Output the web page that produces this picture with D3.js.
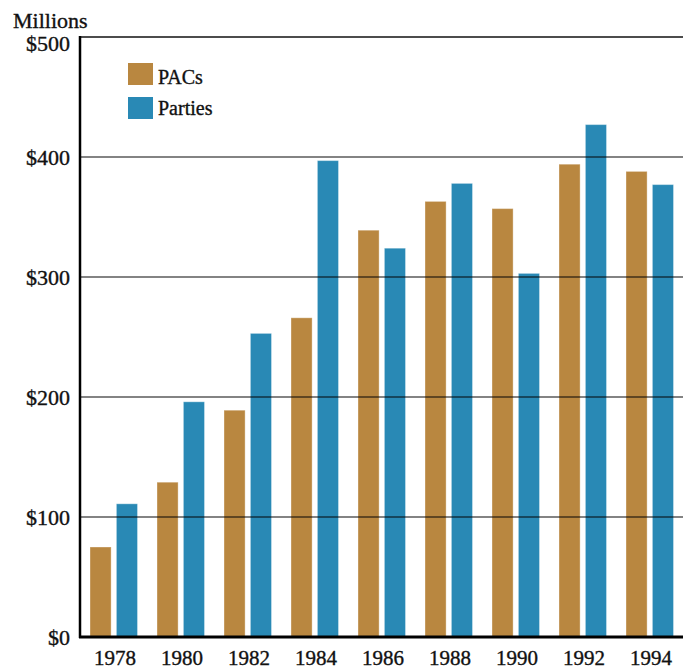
<!DOCTYPE html>
<html><head><meta charset="utf-8">
<script src="https://cdn.jsdelivr.net/npm/d3@7"></script>
<style>body{margin:0;background:#fff}svg{display:block}</style>
</head><body>
<svg id="c" width="685" height="670"></svg>
<script>
const years = ["1978","1980","1982","1984","1986","1988","1990","1992","1994"];
const pacs = [75, 129, 189, 266, 339, 363, 357, 394, 388];
const parties = [111, 196, 253, 397, 324, 378, 303, 427, 377];
const seriesNames = ["PACs", "Parties"];
const colors = ["#b98740", "#2989b5"];
const yTicks = [0, 100, 200, 300, 400, 500];

const svg = d3.select("#c");
const font = "'Liberation Serif', 'Times New Roman', serif";
const L = 80, R = 683, T = 37, B = 637;

const x0 = d3.scaleBand().domain(years).range([L, L + 67 * 9]).padding(0);
const x1 = d3.scaleBand().domain(seriesNames).range([10, 57.5]).paddingInner(0.2);
const y = d3.scaleLinear().domain([0, 500]).range([B, T]);

const data = years.map((yr, i) => ({year: yr, vals: [pacs[i], parties[i]]}));

function txt(sel, size) {
  return sel.attr("font-family", font).attr("font-size", size).attr("fill", "#111")
    .attr("stroke", "#111").attr("stroke-width", 0.35);
}

svg.append("g").selectAll("g.grp").data(data).join("g")
  .attr("transform", d => `translate(${x0(d.year)},0)`)
  .selectAll("rect").data(d => d.vals.map((v, j) => ({v, s: seriesNames[j], c: colors[j]})))
  .join("rect")
  .attr("x", d => x1(d.s)).attr("width", x1.bandwidth())
  .attr("y", d => y(d.v)).attr("height", d => y(0) - y(d.v))
  .attr("fill", d => d.c)
  .attr("stroke", "rgba(255,255,255,0.35)").attr("stroke-width", 1);

// gridlines over bars
svg.append("g").selectAll("line").data(yTicks.filter(t => t > 0 && t < 500)).join("line")
  .attr("x1", L).attr("x2", R).attr("y1", d => y(d)).attr("y2", d => y(d))
  .attr("stroke", "#000").attr("stroke-opacity", 0.65).attr("stroke-width", 1.5);
svg.append("line").attr("x1", L).attr("x2", R).attr("y1", y(500)).attr("y2", y(500))
  .attr("stroke", "#111").attr("stroke-width", 1.3);

// axes
svg.append("line").attr("x1", L).attr("x2", L).attr("y1", T - 1).attr("y2", B + 1)
  .attr("stroke", "#000").attr("stroke-width", 2.5);
svg.append("line").attr("x1", L - 1).attr("x2", R).attr("y1", B).attr("y2", B)
  .attr("stroke", "#000").attr("stroke-width", 3);

// y labels
txt(svg.append("g").selectAll("text").data(yTicks).join("text")
  .attr("x", 70).attr("y", d => y(d) + (d === 500 ? 6 : 0))
  .attr("dy", "0.35em").attr("text-anchor", "end"), 22)
  .text(d => "$" + d);

txt(svg.append("text").attr("x", 13).attr("y", 28), 22).text("Millions");

// x labels
txt(svg.append("g").selectAll("text").data(years).join("text")
  .attr("x", d => x0(d) + 35).attr("y", 665)
  .attr("text-anchor", "middle"), 21)
  .text(d => d);

// legend
const leg = svg.append("g");
seriesNames.forEach((s, i) => {
  leg.append("rect").attr("x", 128).attr("y", 63 + i * 34).attr("width", 25).attr("height", 22).attr("fill", colors[i]);
  txt(leg.append("text").attr("x", 158).attr("y", 84 + i * 31), 20).text(s);
});
</script>
</body></html>
